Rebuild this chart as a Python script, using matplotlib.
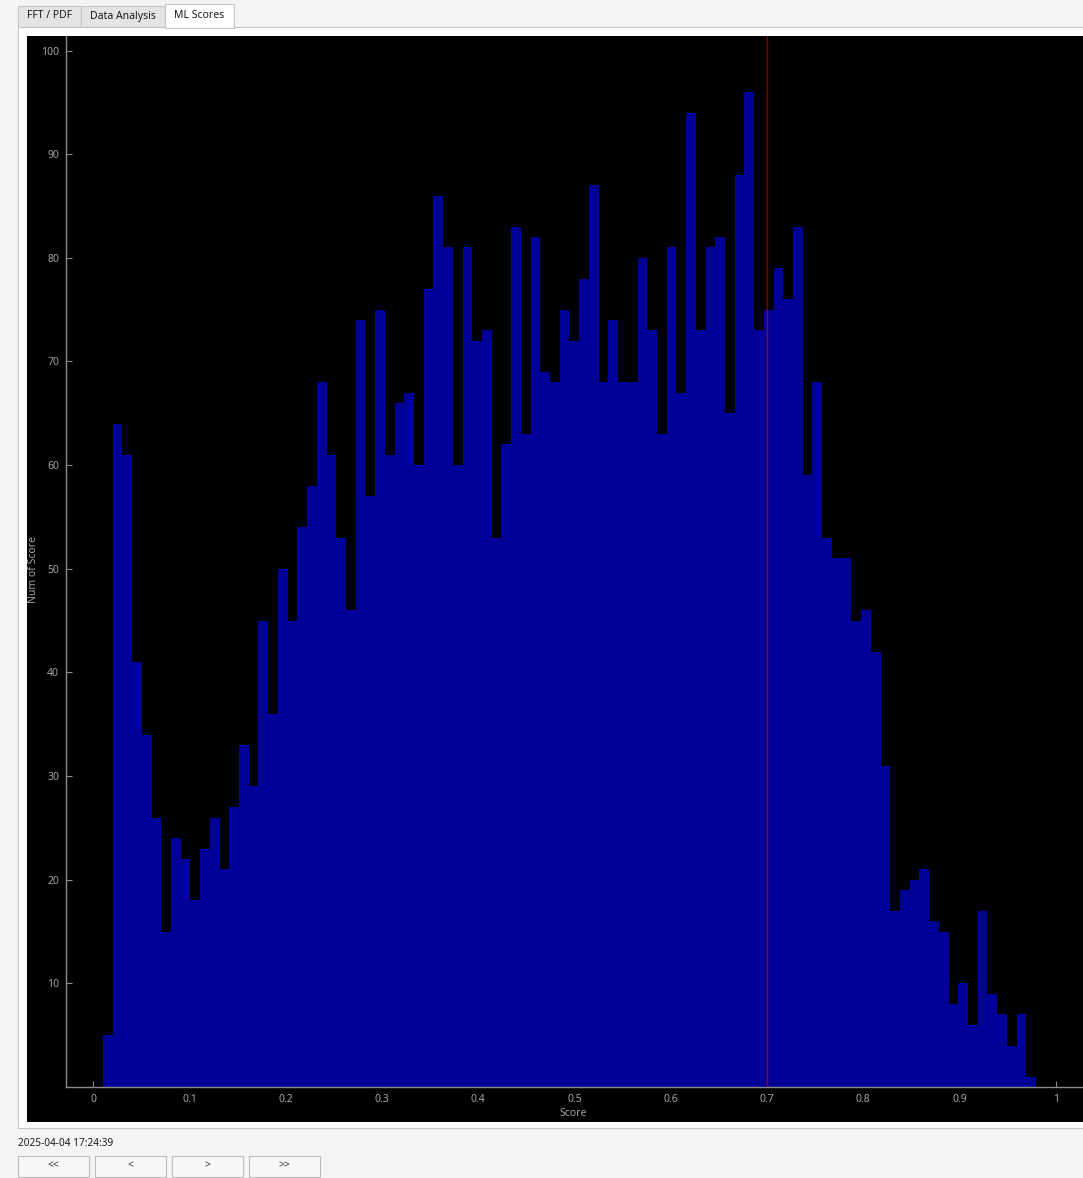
import numpy as np
import matplotlib
matplotlib.use("Agg")
import matplotlib.pyplot as plt
from matplotlib.patches import Rectangle

plt.rcParams['font.family'] = ['Noto Sans', 'DejaVu Sans']

# histogram of ML scores (96 bins between the lowest and highest score)
score_min = 0.0100
score_max = 0.9796
counts = [5, 64, 61, 41, 34, 26, 15, 24, 22, 18,
          23, 26, 21, 27, 33, 29, 45, 36, 50, 45,
          54, 58, 68, 61, 53, 46, 74, 57, 75, 61,
          66, 67, 60, 77, 86, 81, 60, 81, 72, 73,
          53, 62, 83, 63, 82, 69, 68, 75, 72, 78,
          87, 68, 74, 68, 68, 80, 73, 63, 81, 67,
          94, 73, 81, 82, 65, 88, 96, 73, 75, 79,
          76, 83, 59, 68, 53, 51, 51, 45, 46, 42,
          31, 17, 19, 20, 21, 16, 15, 8, 10, 6,
          17, 9, 7, 4, 7, 1]
threshold = 0.7

x_ticks = [0, 0.1, 0.2, 0.3, 0.4, 0.5, 0.6, 0.7, 0.8, 0.9, 1]
x_tick_labels = ['0', '0.1', '0.2', '0.3', '0.4', '0.5', '0.6', '0.7', '0.8', '0.9', '1']
y_ticks = [10, 20, 30, 40, 50, 60, 70, 80, 90, 100]

tabs = ['FFT / PDF', 'Data Analysis', 'ML Scores']
timestamp = '2025-04-04 17:24:39'
buttons = ['<<', '<', '>', '>>']

W, H = 1083, 1178
fig = plt.figure(figsize=(W / 100, H / 100), dpi=100, facecolor='#f4f4f4')


def box(x0, y0, x1, y1):
    # pixel box (top-left origin) -> figure fraction rect
    return (x0 / W, 1 - y1 / H, (x1 - x0) / W, (y1 - y0) / H)


def rect(x0, y0, x1, y1, fc, ec='none', lw=0.8, z=0):
    l, b, w, h = box(x0, y0, x1, y1)
    fig.patches.append(Rectangle((l, b), w, h, transform=fig.transFigure,
                                 facecolor=fc, edgecolor=ec, linewidth=lw, zorder=z))


def label(px, py, s, **kw):
    fig.text(px / W, 1 - py / H, s, **kw)


# tab page and tabs
rect(18, 27, 1090, 1128, '#ffffff', '#c4c4c4')
tab_x = [(18, 81), (81, 165), (165, 234)]
for i, (name, (a, b)) in enumerate(zip(tabs, tab_x)):
    selected = i == len(tabs) - 1
    rect(a, 4 if selected else 6, b, 28 if selected else 27,
         '#ffffff' if selected else '#e4e4e4', '#c4c4c4', z=1 if selected else 0)
    label((a + b) / 2, 16, name, ha='center', va='center', fontsize=7.5, color='#1a1a1a')

# black plot panel
rect(27, 36, 1090, 1122, '#000000')

ax = fig.add_axes(box(66, 36, 1083, 1087))
ax.set_zorder(2)
ax.set_facecolor('#000000')

edges = np.linspace(score_min, score_max, len(counts) + 1)
ax.bar(edges[:-1], counts, width=np.diff(edges), align='edge',
       color='#000096', linewidth=0, zorder=2)
# decision threshold, drawn semi-transparent over the bars
ax.axvline(threshold, color='#ff0000', alpha=0.5, linewidth=1, zorder=3)

ax.set_xlim(-0.0284, 1.0284)
ax.set_ylim(0, 101.4)
ax.set_xticks(x_ticks)
ax.set_xticklabels(x_tick_labels)
ax.set_yticks(y_ticks)
ax.tick_params(direction='in', length=4, width=0.8, colors='#8a8a8a',
               labelcolor='#a4a4a4', labelsize=7.5, pad=5)
for side in ['top', 'right']:
    ax.spines[side].set_visible(False)
for side in ['left', 'bottom']:
    ax.spines[side].set_color('#8a8a8a')
    ax.spines[side].set_linewidth(1)

label(34, 569, 'Num of Score', rotation=90, ha='center', va='center',
      fontsize=7.5, color='#a4a4a4')
label(573, 1114, 'Score', ha='center', va='center', fontsize=7.5, color='#a4a4a4')

# status bar with time stamp and navigation buttons
label(18, 1143, timestamp, ha='left', va='center', fontsize=7.2, color='#1a1a1a')
btn_x = [(18, 89), (95, 166), (172, 243), (249, 320)]
for s, (a, b) in zip(buttons, btn_x):
    rect(a, 1156, b, 1177, '#f7f7f7', '#bdbdbd')
    label((a + b) / 2, 1166, s, ha='center', va='center', fontsize=7.5, color='#333333')

fig.savefig('out.png', dpi=100, facecolor=fig.get_facecolor())
